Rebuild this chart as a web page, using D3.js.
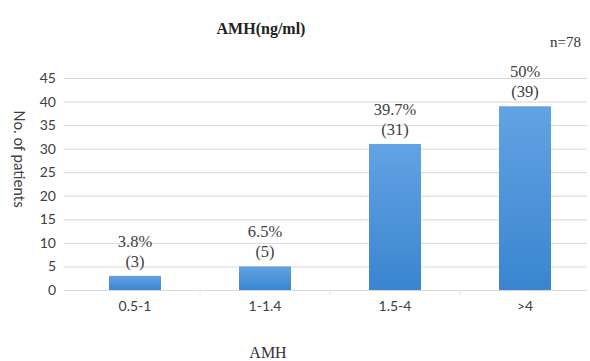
<!DOCTYPE html>
<html><head><meta charset="utf-8">
<script src="https://cdn.jsdelivr.net/npm/d3@7"></script>
<style>body{margin:0;background:#fff}svg{display:block}</style>
</head><body>
<svg id="c" width="590" height="361"></svg>
<script>
const categories = ["0.5-1", "1-1.4", "1.5-4", ">4"];
const counts = [3, 5, 31, 39];
const percents = ["3.8%", "6.5%", "39.7%", "50%"];
const yTicks = [0, 5, 10, 15, 20, 25, 30, 35, 40, 45];

const svg = d3.select("#c");
const x = d3.scaleBand().domain(categories).range([70, 590]).paddingInner(0.6).paddingOuter(0.3);
const y = d3.scaleLinear().domain([0, 45]).range([290, 78]);

const defs = svg.append("defs");
const g = defs.append("linearGradient").attr("id", "bg").attr("x1", 0).attr("y1", 0).attr("x2", 0).attr("y2", 1);
g.append("stop").attr("offset", "0%").attr("stop-color", "#62a3e3");
g.append("stop").attr("offset", "100%").attr("stop-color", "#3a85d0");

// gridlines
svg.append("g").selectAll("line").data(yTicks).join("line")
  .attr("x1", 64).attr("x2", 587).attr("y1", d => y(d) + 0.5).attr("y2", d => y(d) + 0.5)
  .attr("stroke", "#d9d9d9").attr("stroke-width", 1);
// faint category boundary ticks
const step = x.step();
svg.append("g").selectAll("line").data(categories.slice(1)).join("line")
  .attr("x1", d => x(d) - step * x.paddingInner() / 2).attr("x2", d => x(d) - step * x.paddingInner() / 2)
  .attr("y1", y(0)).attr("y2", y(0) + 5).attr("stroke", "#e6e6e6");

// y axis
const yAxis = d3.axisLeft(y).tickValues(yTicks).tickSize(0).tickPadding(0);
const ya = svg.append("g").attr("transform", "translate(56,0)").call(yAxis);
ya.select(".domain").remove();
ya.selectAll("text").attr("font-family", "Lato, 'Open Sans', sans-serif").attr("font-size", 14).attr("fill", "#404040");

// x axis
const xAxis = d3.axisBottom(x).tickSize(0).tickPadding(0);
const xa = svg.append("g").attr("transform", "translate(0,301)").call(xAxis);
xa.select(".domain").remove();
xa.selectAll("text").attr("font-family", "Lato, 'Open Sans', sans-serif").attr("font-size", 14).attr("fill", "#404040");

// bars
svg.append("g").selectAll("rect").data(categories).join("rect")
  .attr("x", d => x(d)).attr("width", x.bandwidth())
  .attr("y", (d, i) => y(counts[i])).attr("height", (d, i) => y(0) - y(counts[i]))
  .attr("fill", "url(#bg)");

// labels
const lbl = svg.append("g").attr("font-family", "'Liberation Serif', serif").attr("font-size", 16.5)
  .attr("fill", "#404040").attr("text-anchor", "middle");
lbl.selectAll("text.cnt").data(categories).join("text").attr("class", "cnt")
  .attr("x", d => x(d) + x.bandwidth() / 2).attr("y", (d, i) => y(counts[i]) - 9)
  .text((d, i) => "(" + counts[i] + ")");
lbl.selectAll("text.pct").data(categories).join("text").attr("class", "pct")
  .attr("x", d => x(d) + x.bandwidth() / 2).attr("y", (d, i) => y(counts[i]) - 29)
  .text((d, i) => percents[i]);

// titles
svg.append("text").attr("x", 261).attr("y", 34).attr("text-anchor", "middle")
  .attr("font-family", "'Liberation Serif', serif").attr("font-weight", "bold").attr("font-size", 16)
  .attr("fill", "#222").text("AMH(ng/ml)");
svg.append("text").attr("x", 581).attr("y", 47).attr("text-anchor", "end")
  .attr("font-family", "'Liberation Serif', serif").attr("font-size", 15)
  .attr("fill", "#333").text("n=78");
svg.append("text").attr("x", 268).attr("y", 358).attr("text-anchor", "middle")
  .attr("font-family", "'Liberation Serif', serif").attr("font-size", 16)
  .attr("fill", "#333").text("AMH");
svg.append("text").attr("transform", "translate(14,159) rotate(90)").attr("text-anchor", "middle")
  .attr("font-family", "Lato, 'Open Sans', sans-serif").attr("font-size", 15)
  .attr("fill", "#404040").text("No. of patients");
</script>
</body></html>
